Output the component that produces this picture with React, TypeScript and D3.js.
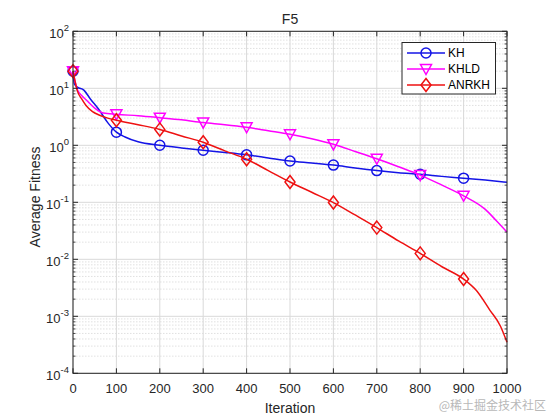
import React from "react";
import * as d3 from "d3";

const iterKH = [0, 3, 10, 25, 40, 60, 80, 100, 120, 150, 200, 250, 300, 350, 400, 450, 500, 550, 600, 650, 700, 750, 800, 850, 900, 950, 1000];
const valKH = [20, 12, 10.5, 9.3, 6.5, 4.2, 2.5, 1.7, 1.4, 1.15, 1.0, 0.9, 0.82, 0.75, 0.68, 0.6, 0.53, 0.49, 0.45, 0.4, 0.36, 0.33, 0.31, 0.285, 0.265, 0.245, 0.225];

const iterKHLD = [0, 5, 10, 20, 30, 50, 70, 100, 150, 200, 250, 300, 350, 400, 450, 500, 550, 600, 650, 700, 750, 800, 850, 900, 950, 975, 1000];
const valKHLD = [20, 13, 9.5, 7.5, 6.3, 4.5, 3.7, 3.5, 3.3, 3.05, 2.8, 2.5, 2.3, 2.07, 1.8, 1.56, 1.3, 1.04, 0.78, 0.58, 0.42, 0.3, 0.2, 0.13, 0.075, 0.048, 0.03];

const iterANRKH = [0, 5, 10, 20, 30, 45, 60, 80, 100, 150, 200, 250, 300, 350, 400, 450, 500, 550, 600, 650, 700, 750, 800, 850, 900, 930, 960, 985, 1000];
const valANRKH = [20, 13, 9, 6.5, 5, 3.9, 3.4, 3.0, 2.75, 2.3, 1.9, 1.46, 1.13, 0.8, 0.57, 0.36, 0.227, 0.15, 0.099, 0.06, 0.036, 0.021, 0.0127, 0.0074, 0.0045, 0.0028, 0.0013, 0.00067, 0.00035];

const markerIters = [0, 100, 200, 300, 400, 500, 600, 700, 800, 900];
const xTicks = [0, 100, 200, 300, 400, 500, 600, 700, 800, 900, 1000];
const yExps = [-4, -3, -2, -1, 0, 1, 2];
const seriesNames = ["KH", "KHLD", "ANRKH"];
const seriesColors = ["#1414e6", "#ff00ff", "#ee1111"];
const seriesMarkers = ["circle", "triangle", "diamond"];

const W = 560;
const H = 420;
const L = 73, R = 507, T = 31.3, B = 373.3;

const x = d3.scaleLinear().domain([0, 1000]).range([L, R]);
const y = d3.scaleLog().domain([1e-4, 1e2]).range([B, T]);

const font = "'Liberation Sans', Arial, Helvetica, sans-serif";

function Marker({ type, cx, cy, color }: { type: string; cx: number; cy: number; color: string }) {
  if (type === "circle") {
    return <circle cx={cx} cy={cy} r={5} fill="none" stroke={color} strokeWidth={1.5} />;
  }
  if (type === "triangle") {
    const p = `${cx - 5.5},${cy - 4.5} ${cx + 5.5},${cy - 4.5} ${cx},${cy + 5.5}`;
    return <polygon points={p} fill="none" stroke={color} strokeWidth={1.5} />;
  }
  const p = `${cx},${cy - 6.5} ${cx + 5},${cy} ${cx},${cy + 6.5} ${cx - 5},${cy}`;
  return <polygon points={p} fill="none" stroke={color} strokeWidth={1.5} />;
}

export default function App() {
  const seriesIters = [iterKH, iterKHLD, iterANRKH];
  const seriesVals = [valKH, valKHLD, valANRKH];
  const line = d3
    .line<[number, number]>()
    .x((d) => x(d[0]))
    .y((d) => y(d[1]))
    .curve(d3.curveMonotoneX);

  const minor: number[] = [];
  for (let e = -4; e < 2; e++) {
    for (let k = 2; k <= 9; k++) minor.push(k * Math.pow(10, e));
  }

  return (
    <svg width={W} height={H} style={{ position: "absolute", left: 0, top: 0, background: "#fff" }} fontFamily={font}>
      <rect x={0} y={0} width={W} height={H} fill="#fff" />
      {minor.map((v, i) => (
        <line key={"mg" + i} x1={L} x2={R} y1={y(v)} y2={y(v)} stroke="#d4d4d4" strokeWidth={0.7} strokeDasharray="1.5,1.5" />
      ))}
      {yExps.map((e) => (
        <line key={"yg" + e} x1={L} x2={R} y1={y(Math.pow(10, e))} y2={y(Math.pow(10, e))} stroke="#d9d9d9" strokeWidth={1} />
      ))}
      {xTicks.map((t) => (
        <line key={"xg" + t} x1={x(t)} x2={x(t)} y1={T} y2={B} stroke="#d9d9d9" strokeWidth={1} />
      ))}

      {seriesNames.map((n, si) => {
        const pts: [number, number][] = seriesIters[si].map((it, j) => [it, seriesVals[si][j]]);
        return (
          <g key={n}>
            <path d={line(pts) || ""} fill="none" stroke={seriesColors[si]} strokeWidth={1.5} />
            {markerIters.map((m) => {
              const j = seriesIters[si].indexOf(m);
              return <Marker key={m} type={seriesMarkers[si]} cx={x(m)} cy={y(seriesVals[si][j])} color={seriesColors[si]} />;
            })}
          </g>
        );
      })}

      <rect x={L} y={T} width={R - L} height={B - T} fill="none" stroke="#262626" strokeWidth={1} />
      {xTicks.map((t) => (
        <g key={"xt" + t}>
          <line x1={x(t)} x2={x(t)} y1={B} y2={B - 5} stroke="#262626" />
          <line x1={x(t)} x2={x(t)} y1={T} y2={T + 5} stroke="#262626" />
          <text x={x(t)} y={393} textAnchor="middle" fontSize={13} fill="#262626">
            {t}
          </text>
        </g>
      ))}
      {yExps.map((e) => (
        <g key={"yt" + e}>
          <line x1={L} x2={L + 5} y1={y(Math.pow(10, e))} y2={y(Math.pow(10, e))} stroke="#262626" />
          <line x1={R} x2={R - 5} y1={y(Math.pow(10, e))} y2={y(Math.pow(10, e))} stroke="#262626" />
          <text x={69} y={y(Math.pow(10, e)) + 7} textAnchor="end" fontSize={13} fill="#262626">
            <tspan>10</tspan>
            <tspan dy={-7} fontSize={9.5}>{String(e)}</tspan>
          </text>
        </g>
      ))}
      {minor.map((v, i) => (
        <g key={"mt" + i}>
          <line x1={L} x2={L + 2.5} y1={y(v)} y2={y(v)} stroke="#262626" strokeWidth={0.8} />
          <line x1={R} x2={R - 2.5} y1={y(v)} y2={y(v)} stroke="#262626" strokeWidth={0.8} />
        </g>
      ))}

      <text x={290} y={24} textAnchor="middle" fontSize={14} fill="#262626">F5</text>
      <text x={290} y={413} textAnchor="middle" fontSize={14} fill="#262626">Iteration</text>
      <text transform={`translate(40,197) rotate(-90)`} textAnchor="middle" fontSize={14} fill="#262626">
        Average Fitness
      </text>

      <rect x={402} y={42.5} width={93.5} height={51.5} fill="#fff" stroke="#262626" strokeWidth={1} />
      {seriesNames.map((n, si) => {
        const ly = 53 + si * 16;
        return (
          <g key={"lg" + n}>
            <line x1={407} x2={445} y1={ly} y2={ly} stroke={seriesColors[si]} strokeWidth={1.5} />
            <Marker type={seriesMarkers[si]} cx={426} cy={ly} color={seriesColors[si]} />
            <text x={448} y={ly + 4.3} fontSize={12} fill="#000">
              {n}
            </text>
          </g>
        );
      })}

      <text x={546} y={410} textAnchor="end" fontSize={12} fill="#b8b8b8" fontFamily="'Noto Sans CJK SC', sans-serif">
        @稀土掘金技术社区
      </text>
    </svg>
  );
}
